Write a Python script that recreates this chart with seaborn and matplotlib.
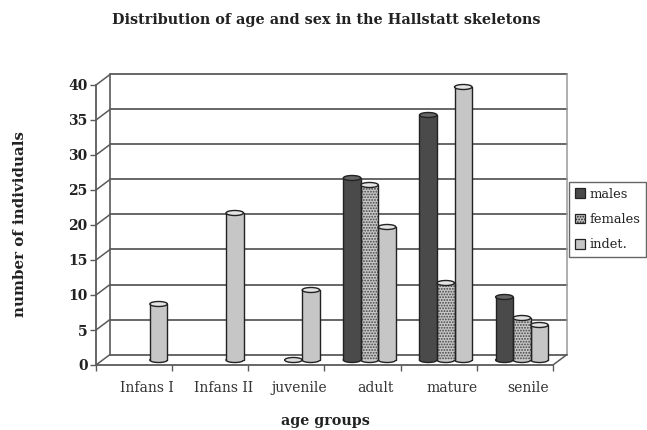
import matplotlib
matplotlib.use("Agg")
import matplotlib.pyplot as plt
from matplotlib.patches import Ellipse, Patch
from matplotlib.transforms import ScaledTranslation
import pandas as pd
import seaborn as sns

age_groups = ["Infans I", "Infans II", "juvenile", "adult", "mature", "senile"]
males = [None, None, None, 26, 35, 9]
females = [None, None, 0, 25, 11, 6]
indet = [8, 21, 10, 19, 39, 5]
y_ticks = [0, 5, 10, 15, 20, 25, 30, 35, 40]

series_names = ["males", "females", "indet."]
series_colors = ["#4a4a4a", "#c8c8c8", "#c6c6c6"]
series_values = [males, females, indet]

rows = [
    {"age": age, "sex": name, "count": value}
    for name, values in zip(series_names, series_values)
    for age, value in zip(age_groups, values)
]
table = pd.DataFrame(rows)

sns.set_theme(style="white")
plt.rcParams["font.family"] = ["DejaVu Serif"]
plt.rcParams["hatch.linewidth"] = 0.9

W, H = 647, 430
fig = plt.figure(figsize=(W / 100, H / 100), dpi=100)
left, right, top, bottom = 96, 553, 85, 365
ax = fig.add_axes([left / W, 1 - bottom / H, (right - left) / W, (bottom - top) / H])

sns.barplot(
    data=table, x="age", y="count", hue="sex", order=age_groups,
    hue_order=series_names, palette=series_colors, width=0.69, gap=0,
    saturation=1, legend=False, ax=ax, zorder=3,
    edgecolor="#444444", linewidth=1.0,
)
ax.set_xlim(-0.5, 5.5)
ax.set_ylim(0, 40)

px_x = 6 / (right - left)
px_y = 40 / (bottom - top)
depth_x, depth_y = 14 * px_x, 10.5 * px_y
wall_color = "#5a5a5a"

# Back wall, floor and side wall of the pseudo-3D chart box
x0, x1 = -0.5, 5.5
for tick in y_ticks:
    ax.plot([x0 + depth_x, x1 + depth_x], [tick + depth_y] * 2, color=wall_color,
            lw=1.3, clip_on=False, zorder=1)
    ax.plot([x0, x0 + depth_x], [tick, tick + depth_y], color=wall_color,
            lw=1.1, clip_on=False, zorder=1)
ax.plot([x0 + depth_x] * 2, [depth_y, 40 + depth_y], color=wall_color, lw=1.2,
        clip_on=False, zorder=1)
ax.plot([x1 + depth_x] * 2, [depth_y, 40 + depth_y], color="#9a9a9a", lw=1.1,
        clip_on=False, zorder=1)
ax.plot([x1, x1 + depth_x], [0, depth_y], color=wall_color, lw=1.1,
        clip_on=False, zorder=1)

# Turn each bar into a cylinder standing mid-way into the box
shift = ScaledTranslation(7 / 100, 5 / 100, fig.dpi_scale_trans)
cap_h = 5 * px_y
for container, name, color in zip(ax.containers, series_names, series_colors):
    for bar in container:
        height = bar.get_height()
        if pd.isna(height):
            continue
        cx = bar.get_x() + bar.get_width() / 2
        trans = ax.transData + shift
        bar.set_transform(trans)
        bar.set_clip_on(False)
        if name == "females" and height > 0:
            bar.set_hatch("......")
        bar.set_linewidth(0)
        z = bar.get_zorder()
        ax.add_patch(Ellipse((cx, 0), bar.get_width(), cap_h, transform=trans,
                             facecolor=color if height > 0 else "#dddddd",
                             edgecolor="#222222", lw=1.0,
                             clip_on=False, zorder=z - 0.1))
        if height > 0:
            for side in (bar.get_x(), bar.get_x() + bar.get_width()):
                ax.plot([side, side], [0, height], transform=trans, color="#222222",
                        lw=1.0, clip_on=False, zorder=z + 0.1)
            ax.add_patch(Ellipse((cx, height), bar.get_width(), cap_h, transform=trans,
                                 facecolor="#e4e4e4" if name != "males" else "#666666",
                                 edgecolor="#222222", lw=1.0, clip_on=False, zorder=z + 0.2))

# Axes lines, ticks and labels
sns.despine(ax=ax, top=True, right=True)
for spine in ("left", "bottom"):
    ax.spines[spine].set_color(wall_color)
    ax.spines[spine].set_linewidth(1.3)
    ax.spines[spine].set_zorder(2)
ax.set_yticks(y_ticks)
ax.tick_params(axis="y", left=True, length=4, width=1.0, color=wall_color, pad=2,
               labelsize=10, labelcolor="#222222")
for label in ax.get_yticklabels():
    label.set_fontweight("bold")
ax.set_xticks([i - 0.5 for i in range(7)], minor=True)
ax.set_xticks(range(6))
ax.set_xticklabels(age_groups)
ax.tick_params(axis="x", which="minor", bottom=True, length=4, width=1.0, color=wall_color)
ax.tick_params(axis="x", which="major", bottom=False, pad=5.5, labelsize=10,
               labelcolor="#333333")
label_shift = ScaledTranslation(13 / 100, 0, fig.dpi_scale_trans)
for label in ax.get_xticklabels():
    label.set_transform(label.get_transform() + label_shift)
ax.set_xlabel("")
ax.set_ylabel("")

fig.text(326 / W, 1 - 20 / H, "Distribution of age and sex in the Hallstatt skeletons",
         ha="center", va="center", fontsize=10.4, fontweight="bold", color="#222222")
fig.text(325 / W, 1 - 421 / H, "age groups", ha="center", va="center", fontsize=10.3,
         fontweight="bold", color="#222222")
fig.text(20 / W, 1 - 224 / H, "number of individuals", ha="center", va="center",
         rotation=90, fontsize=10.8, fontweight="bold", color="#222222")

handles = [
    Patch(facecolor=c, edgecolor="#222222", linewidth=0.9,
          hatch="......" if n == "females" else None)
    for n, c in zip(series_names, series_colors)
]
legend = fig.legend(
    handles, series_names, loc="center left", bbox_to_anchor=(569 / W, 1 - 219.5 / H),
    fontsize=9.4, handlelength=0.76, handleheight=0.76, handletextpad=0.35,
    labelspacing=0.95, borderpad=0.45, borderaxespad=0, fancybox=False, framealpha=1,
    edgecolor="#666666", labelcolor="#222222",
)
legend.get_frame().set_linewidth(1.0)

fig.savefig("out.png", dpi=100, facecolor="white")
